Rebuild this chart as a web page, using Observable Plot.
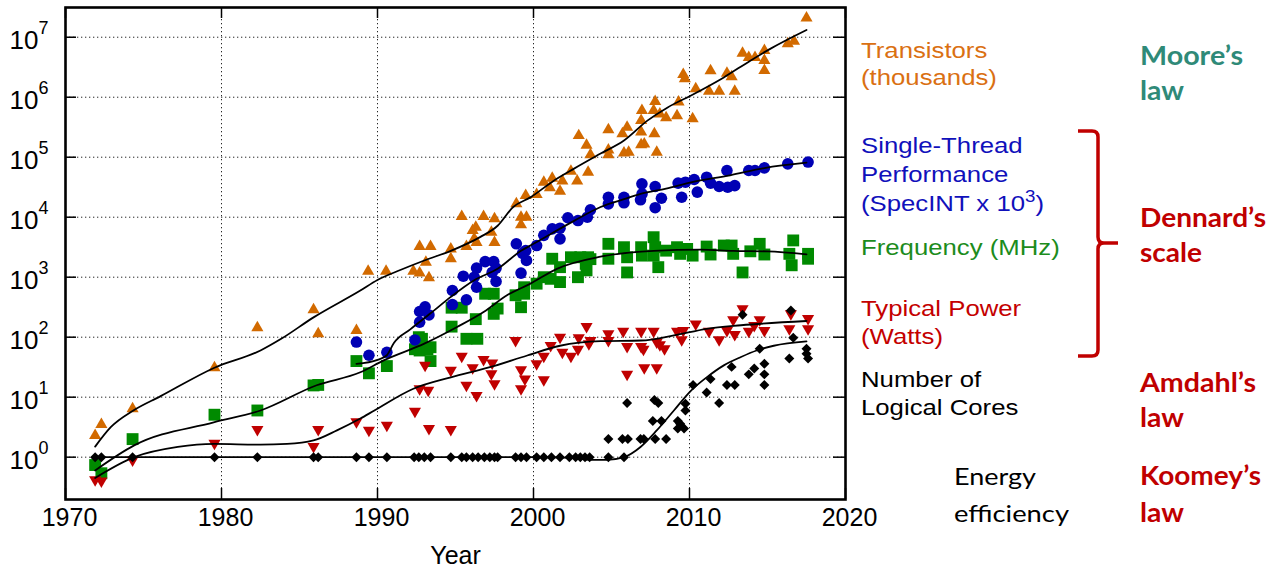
<!DOCTYPE html>
<html>
<head>
<meta charset="utf-8">
<script src="https://cdn.jsdelivr.net/npm/d3@7"></script>
<script src="https://cdn.jsdelivr.net/npm/@observablehq/plot@0.6"></script>
<style>
  body { margin: 0; background: #fff; }
  #wrap { position: relative; width: 1274px; height: 575px; overflow: hidden; background: #fff; }
  #wrap > svg { position: absolute; left: 0; top: 0; }
</style>
</head>
<body>
<div id="wrap"></div>
<script>
// ---------------- data ----------------
const xTicks = [1970, 1980, 1990, 2000, 2010, 2020];
const yTicks = [1, 10, 100, 1e3, 1e4, 1e5, 1e6, 1e7];

const transistors = [
  [1971.9, 2.3], [1972.3, 3.5], [1974.3, 6.4], [1979.55, 31], [1982.3, 144], [1985.9, 287], [1986.2, 114],
  [1988.65, 129], [1989.4, 1260], [1990.55, 1260], [1992.3, 1260], [1992.7, 1170], [1992.7, 3240], [1993.1, 1780],
  [1993.4, 3240], [1993.3, 980], [1994.7, 2960], [1994.7, 2030], [1995.4, 10240], [1995.7, 3240], [1996.1, 6000],
  [1996.3, 6800], [1996.2, 4360], [1996.35, 3800], [1996.8, 10240], [1997.5, 9400], [1997.3, 5600], [1997.5, 3800],
  [1998.9, 16700], [1999.5, 23000], [1999.2, 10000], [1999.55, 10000], [1999.2, 7450], [2000.2, 24000],
  [2000.66, 38400], [2001.2, 44600], [2001.05, 31000], [2001.85, 40000], [2001.7, 27000], [2002.4, 58500],
  [2002.8, 40000], [2003.5, 56000], [2002.9, 229000], [2003.4, 159000], [2003.65, 110000], [2004.8, 288000],
  [2004.8, 132000], [2004.8, 110000], [2005.7, 245000], [2006.0, 316000], [2005.8, 117000], [2006.1, 121000],
  [2006.9, 408000], [2006.95, 600000], [2006.9, 263000], [2006.9, 162000], [2007.1, 166000], [2007.7, 600000],
  [2007.8, 851000], [2007.75, 245000], [2007.9, 121000], [2008.1, 525000], [2008.5, 455000], [2009.2, 493000],
  [2009.3, 830000], [2010.2, 436000], [2009.6, 2.4e6], [2009.7, 2.03e6], [2010.4, 1.38e6], [2011.25, 1.26e6],
  [2011.35, 2.77e6], [2011.9, 1.26e6], [2012.4, 2.5e6], [2012.7, 2.2e6], [2012.9, 1.26e6], [2013.4, 5.4e6],
  [2013.8, 4.6e6], [2014.2, 4.6e6], [2014.8, 6.0e6], [2014.8, 4.1e6], [2014.8, 2.78e6], [2016.3, 7.8e6],
  [2016.7, 8.6e6], [2017.5, 2.1e7]
];

const singleThread = [
  [1988.65, 83], [1989.45, 50], [1990.6, 56], [1992.4, 90], [1992.7, 178], [1992.7, 268], [1993.05, 320],
  [1993.3, 235], [1994.8, 600], [1994.8, 350], [1995.5, 1040], [1995.7, 420], [1996.2, 1000], [1996.35, 1420],
  [1996.35, 680], [1996.9, 1820], [1997.45, 1820], [1997.6, 1420], [1997.35, 1200], [1997.6, 850], [1998.9, 3600],
  [1999.3, 2500], [1999.5, 2770], [1999.55, 1900], [1999.2, 1170], [2000.2, 3370], [2000.66, 4980], [2001.2, 6400],
  [2001.7, 6560], [2001.7, 4360], [2002.2, 9800], [2002.85, 8800], [2003.45, 10000], [2003.65, 13300],
  [2004.8, 21500], [2004.8, 16700], [2005.8, 21500], [2005.8, 17400], [2006.95, 36000], [2006.96, 24500],
  [2006.86, 19500], [2007.8, 32500], [2008.2, 20700], [2007.8, 14400], [2009.27, 37000], [2009.74, 38300],
  [2009.5, 21500], [2010.3, 42500], [2010.5, 26200], [2011.1, 46400], [2011.35, 37000], [2011.9, 32500],
  [2012.4, 60000], [2012.45, 31600], [2012.9, 33600], [2013.8, 60000], [2014.2, 60000], [2014.8, 66300],
  [2016.3, 77500], [2017.6, 83000]
];

const frequency = [
  [1971.9, 0.74], [1972.3, 0.54], [1974.3, 2.0], [1979.55, 5.1], [1982.3, 6.0], [1985.9, 15.7], [1986.2, 16],
  [1988.65, 40], [1989.45, 25], [1990.6, 33], [1992.4, 63], [1992.65, 100], [1992.7, 60], [1992.85, 94],
  [1993.2, 63], [1993.4, 68], [1993.4, 40], [1994.75, 150], [1994.75, 310], [1995.4, 310], [1995.7, 94],
  [1996.4, 94], [1996.3, 200], [1996.9, 530], [1997.45, 530], [1997.7, 300], [1997.45, 245], [1998.85, 500],
  [1999.4, 530], [1999.4, 680], [1999.2, 316], [2000.2, 780], [2000.66, 1000], [2001.1, 940], [2001.2, 2030],
  [2001.7, 1470], [2001.7, 830], [2002.4, 2150], [2003.0, 2150], [2003.5, 2150], [2003.35, 1670], [2003.4, 1300],
  [2002.85, 1000], [2003.65, 2000], [2004.8, 3600], [2004.8, 2030], [2005.8, 3160], [2006.0, 2150], [2006.0, 1200],
  [2006.9, 3160], [2006.95, 2290], [2007.7, 4640], [2007.8, 3160], [2008.0, 1470], [2007.7, 2290], [2008.5, 2770],
  [2009.2, 3160], [2009.4, 2450], [2009.85, 2960], [2010.2, 2290], [2011.1, 3240], [2011.35, 2390], [2012.2, 3370],
  [2012.7, 3370], [2012.8, 2450], [2013.4, 1200], [2013.9, 2700], [2014.5, 3600], [2014.8, 2390], [2016.65, 4100],
  [2016.4, 2450], [2016.55, 1580], [2017.6, 2450], [2017.6, 2030]
];

const power = [
  [1971.9, 0.42], [1972.3, 0.4], [1974.3, 0.9], [1979.55, 1.7], [1982.3, 2.9], [1985.9, 1.5], [1986.2, 2.9],
  [1988.65, 3.9], [1989.45, 2.8], [1990.6, 3.4], [1992.4, 5.8], [1992.7, 13.8], [1993.05, 34], [1993.25, 13],
  [1993.3, 3], [1994.7, 28], [1994.7, 2.9], [1995.4, 48], [1995.7, 15.8], [1996.1, 31], [1996.35, 10.7],
  [1996.8, 42.5], [1997.35, 37], [1997.3, 24.5], [1997.5, 16.7], [1998.85, 88], [1999.2, 28.7], [1999.45, 20],
  [1999.2, 13.8], [2000.2, 36], [2000.66, 19.5], [2000.66, 48], [2001.1, 73], [2001.7, 100], [2001.85, 56],
  [2002.4, 48], [2002.85, 63], [2002.9, 98], [2003.4, 151], [2003.55, 78], [2003.65, 88], [2004.8, 114],
  [2004.8, 88], [2005.75, 126], [2006.0, 70], [2006.0, 24], [2006.9, 126], [2006.9, 70], [2007.05, 63],
  [2007.1, 31], [2007.7, 126], [2007.9, 83], [2007.9, 31], [2008.1, 75], [2008.4, 64], [2009.2, 126],
  [2009.5, 91], [2009.6, 129], [2010.4, 166], [2011.25, 126], [2011.9, 91], [2012.4, 129], [2012.8, 195],
  [2012.9, 111], [2013.4, 297], [2013.8, 126], [2014.15, 157], [2014.5, 195], [2014.8, 129], [2016.4, 138],
  [2016.5, 245], [2017.6, 204], [2017.6, 138]
];

const cores = [
  [1971.9, 1], [1972.3, 1], [1974.3, 1], [1979.55, 1], [1982.3, 1], [1985.9, 1], [1986.2, 1], [1988.65, 1],
  [1989.45, 1], [1990.6, 1], [1992.35, 1], [1992.65, 1], [1993.0, 1], [1993.4, 1], [1994.7, 1], [1995.4, 1],
  [1995.7, 1], [1996.1, 1], [1996.45, 1], [1996.85, 1], [1997.2, 1], [1997.5, 1], [1997.7, 1], [1998.85, 1],
  [1999.2, 1], [1999.55, 1], [2000.2, 1], [2000.66, 1], [2001.15, 1], [2001.7, 1], [2002.3, 1], [2002.7, 1],
  [2003.0, 1], [2003.3, 1], [2003.6, 1], [2004.8, 1], [2005.8, 1],
  [2004.8, 2], [2005.7, 2], [2006.05, 2], [2006.0, 8], [2006.86, 2], [2007.07, 2], [2007.8, 2], [2008.5, 2],
  [2007.65, 4], [2008.2, 4], [2007.75, 9], [2008.0, 8], [2009.25, 4], [2009.25, 3], [2009.65, 3], [2009.4, 3.6],
  [2009.74, 6], [2009.74, 7.8], [2010.23, 16], [2011.1, 12], [2011.35, 20], [2011.9, 8], [2012.4, 16],
  [2012.9, 16], [2012.7, 32], [2013.4, 237], [2013.8, 24], [2014.15, 30], [2014.5, 64], [2014.8, 36],
  [2014.8, 24], [2014.8, 16], [2016.4, 44], [2016.65, 98], [2016.5, 278], [2017.5, 64], [2017.5, 53], [2017.6, 44]
];

// trend curves
const transistorTrend = [
  [1971.9, 1.5], [1972.9, 3.16], [1974.35, 6.0], [1976.1, 10.4], [1979.55, 31], [1982.5, 60], [1983.8, 93],
  [1985.9, 214], [1988.9, 600], [1990.0, 900], [1991.5, 1330], [1993.0, 1900], [1994.7, 2750], [1996.6, 4700],
  [1997.7, 7200], [1998.7, 14800], [1999.8, 21400], [2001.3, 40700], [2002.6, 64600], [2004.3, 115000],
  [2005.8, 190000], [2007.3, 407000], [2008.6, 676000], [2010.1, 1.07e6], [2012.2, 2.14e6], [2013.9, 4.07e6],
  [2015.2, 6.46e6], [2017.5, 1.32e7]
];
const singleThreadTrend = [
  [1988.65, 36], [1990.0, 42], [1990.6, 50], [1991.05, 80], [1992.1, 135], [1993.4, 250], [1994.7, 470],
  [1996.2, 890], [1997.7, 1380], [1999.2, 2750], [2000.0, 3600], [2002.6, 8700], [2004.3, 14800], [2005.8, 20000],
  [2006.86, 24500], [2008.5, 30000], [2010.1, 38000], [2012.6, 50000], [2014.8, 66000], [2017.5, 81000]
];
const frequencyTrend = [
  [1971.9, 0.6], [1974.4, 1.57], [1979.5, 3.8], [1982.5, 6.0], [1986.1, 15.8], [1988.9, 26], [1990.4, 41],
  [1993.0, 78], [1995.1, 148], [1996.8, 263], [1998.3, 500], [1999.8, 780], [2001.5, 1380], [2004.3, 2200],
  [2007.7, 2750], [2010.7, 2880], [2012.8, 2750], [2015.0, 2690], [2017.5, 2400]
];
const powerTrend = [
  [1971.9, 0.45], [1974.4, 1.0], [1977.2, 1.48], [1979.55, 1.66], [1982.5, 1.62], [1984.2, 1.66], [1985.9, 1.9],
  [1987.4, 2.8], [1988.9, 4.4], [1989.8, 6.0], [1992.3, 13.8], [1994.7, 21.4], [1997.2, 31.6], [1999.6, 49.5],
  [2001.7, 72], [2004.3, 86], [2006.9, 88], [2009.0, 107], [2011.1, 138], [2013.3, 158], [2017.5, 186]
];
const coresTrend = [
  [1971.9, 1], [1980, 1], [1990, 1], [2000, 1], [2002.5, 0.97], [2003.65, 0.9], [2004.7, 0.9], [2005.8, 1.0],
  [2006.86, 1.48], [2007.9, 2.79], [2009.0, 6.0], [2010.1, 12.9], [2011.1, 21.4], [2012.2, 33.9], [2013.3, 46.8],
  [2014.3, 60], [2015.4, 72], [2017.5, 85]
];

// ---------------- rendering ----------------
const downTriangle = {
  draw(ctx, size) {
    const s3 = Math.sqrt(3);
    const y = Math.sqrt(size / (s3 * 3));
    ctx.moveTo(0, y * 2);
    ctx.lineTo(-s3 * y, -y);
    ctx.lineTo(s3 * y, -y);
    ctx.closePath();
  }
};

const C = {
  orange: "#d26a00", blue: "#0000b4", green: "#008a00", red: "#c00000", black: "#000"
};

const frameH = 575 - 7 - 76;   // 492
const frameW = 1274 - 65 - 429; // 780
const X = d => d[0], Y = d => d[1];
const grid = {stroke: "#000", strokeOpacity: 0.85, strokeWidth: 1, strokeDasharray: "1.3,2.7"};
const tick = {stroke: "#000", strokeWidth: 1.5};
const trend = {x: X, y: Y, stroke: "#000", strokeWidth: 1.8, curve: "monotone-x"};

const chart = Plot.plot({
  width: 1274,
  height: 575,
  marginLeft: 65,
  marginRight: 429,
  marginTop: 7,
  marginBottom: 76,
  x: {domain: [1970, 2020], axis: null},
  y: {type: "log", domain: [0.197, 3.13e7], axis: null},
  style: {fontFamily: "'Liberation Sans', Arial, sans-serif", background: "white", color: "black", overflow: "visible"},
  marks: [
    Plot.ruleX(xTicks.slice(1, -1), {x: d => d, ...grid}),
    Plot.ruleY(yTicks, {y: d => d, ...grid}),
    Plot.ruleX(xTicks, {x: d => d, insetTop: frameH - 11, ...tick}),
    Plot.ruleX(xTicks, {x: d => d, insetBottom: frameH - 11, ...tick}),
    Plot.ruleY(yTicks, {y: d => d, insetRight: frameW - 11, ...tick}),
    Plot.ruleY(yTicks, {y: d => d, insetLeft: frameW - 12, ...tick}),

    Plot.dot(frequency, {x: X, y: Y, symbol: "square", r: 6.7, fill: C.green}),
    Plot.dot(power, {x: X, y: Y, symbol: downTriangle, r: 4.5, fill: C.red}),
    Plot.dot(cores, {x: X, y: Y, symbol: "diamond2", r: 4.5, fill: C.black}),
    Plot.dot(singleThread, {x: X, y: Y, r: 5.8, fill: C.blue}),
    Plot.dot(transistors, {x: X, y: Y, symbol: "triangle", r: 4.5, fill: C.orange}),

    Plot.line(transistorTrend, trend),
    Plot.line(singleThreadTrend, trend),
    Plot.line(frequencyTrend, trend),
    Plot.line(powerTrend, trend),
    Plot.line(coresTrend, trend),

    Plot.frame({stroke: "#000", strokeWidth: 2.6}),

    Plot.text(xTicks, {x: d => d, frameAnchor: "bottom", text: d => String(d), dy: 26, dx: 4, fontSize: 25}),
    Plot.text(yTicks, {y: d => d, frameAnchor: "left", text: () => "10", textAnchor: "end", dx: -27, dy: 3, fontSize: 26}),
    Plot.text(yTicks, {y: d => d, frameAnchor: "left", text: d => String(Math.round(Math.log10(d))), textAnchor: "start", dx: -27, dy: -8.5, fontSize: 18}),
    Plot.text(["Year"], {frameAnchor: "bottom", text: d => d, dy: 64, fontSize: 25})
  ]
});

const wrap = document.getElementById("wrap");
wrap.appendChild(chart);

// ---------------- annotations (right-hand side) ----------------
const overlay = `
<svg xmlns="http://www.w3.org/2000/svg" width="1274" height="575" viewBox="0 0 1274 575">
  <g transform="translate(861 0) scale(1.17 1)" font-family="'Liberation Sans', Arial, sans-serif" font-size="22">
    <text y="58" fill="#da7012">Transistors</text>
    <text y="85" fill="#da7012">(thousands)</text>
    <text y="153" fill="#1010bb">Single-Thread</text>
    <text y="182" fill="#1010bb">Performance</text>
    <text y="211" fill="#1010bb">(SpecINT x 10<tspan dy="-9" font-size="16">3</tspan><tspan dy="9">)</tspan></text>
    <text y="255" fill="#1c8c1c">Frequency (MHz)</text>
    <text y="316" fill="#c40000">Typical Power</text>
    <text y="344" fill="#c40000">(Watts)</text>
    <text y="386.7" fill="#000">Number of</text>
    <text y="415" fill="#000">Logical Cores</text>
  </g>
  <g font-family="Lato, 'Open Sans', sans-serif" font-size="24" fill="#000">
    <text x="954" y="485" textLength="82" lengthAdjust="spacingAndGlyphs">Energy</text>
    <text x="954" y="521.7" textLength="115" lengthAdjust="spacingAndGlyphs">efficiency</text>
  </g>
  <g font-family="Lato, 'Open Sans', sans-serif" font-size="26" font-weight="bold">
    <text x="1140" y="65" fill="#2f8a78" textLength="103" lengthAdjust="spacingAndGlyphs">Moore’s</text>
    <text x="1140" y="100" fill="#2f8a78" textLength="44" lengthAdjust="spacingAndGlyphs">law</text>
    <text x="1140" y="226.7" fill="#c00000" textLength="126" lengthAdjust="spacingAndGlyphs">Dennard’s</text>
    <text x="1140" y="261.7" fill="#c00000" textLength="62" lengthAdjust="spacingAndGlyphs">scale</text>
    <text x="1140" y="391.7" fill="#c00000" textLength="116" lengthAdjust="spacingAndGlyphs">Amdahl’s</text>
    <text x="1140" y="426.7" fill="#c00000" textLength="44" lengthAdjust="spacingAndGlyphs">law</text>
    <text x="1140" y="485" fill="#c00000" textLength="121" lengthAdjust="spacingAndGlyphs">Koomey’s</text>
    <text x="1140" y="521.7" fill="#c00000" textLength="44" lengthAdjust="spacingAndGlyphs">law</text>
  </g>
  <path d="M1078 131 L1092 131 Q1098 131 1098 137 L1098 237 Q1098 243 1104 243 L1118 243 M1104 243 Q1098 243 1098 249 L1098 350 Q1098 356 1092 356 L1078 356"
        fill="none" stroke="#c00000" stroke-width="3.5" stroke-linejoin="round"/>
</svg>`;
wrap.insertAdjacentHTML("beforeend", overlay);
</script>
</body>
</html>
